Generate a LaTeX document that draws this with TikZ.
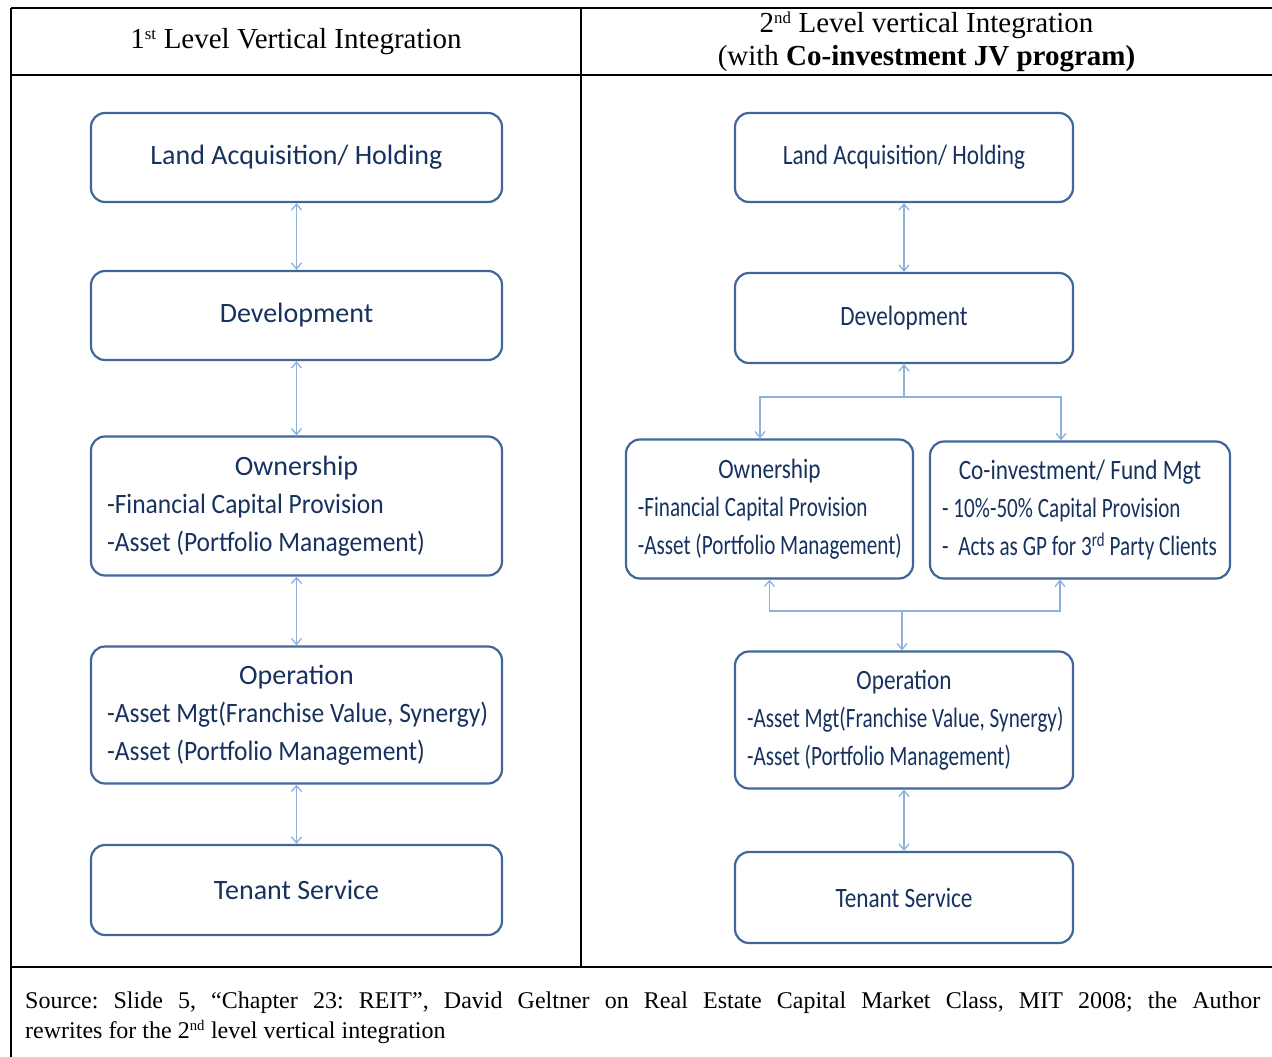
\documentclass[tikz,border=0pt]{standalone}
\usepackage{fontspec}
\setmainfont{Liberation Serif}
\newfontfamily\boxfont{Carlito}
\usetikzlibrary{arrows.meta,calc}
\definecolor{boxline}{HTML}{41679A}
\definecolor{boxtext}{HTML}{17325F}
\definecolor{linkblue}{HTML}{8EB1DC}
% condensed lettering used in the right-hand column
\newcommand{\narrowtext}[1]{\scalebox{0.83}[1]{#1}}
% tightly set detail lines inside the boxes
\newcommand{\detail}[1]{\scalebox{0.91}[1]{#1}}
% ordinal suffix in the serif texts
\newcommand{\ordsuffix}[1]{{\fontsize{24}{24}\selectfont\textsuperscript{#1}}}
\frenchspacing
\begin{document}
\begin{tikzpicture}[x=1pt,y=-1pt,
  stage/.style={draw=boxline, line width=2.2pt, rounded corners=14pt, fill=white,
    text=boxtext, font=\boxfont\fontsize{28}{38}\selectfont, inner sep=0pt, align=center},
  link/.style={draw=linkblue, line width=1.3pt},
  >={Straight Barb[length=6pt,width=10pt]},
  rule/.style={line width=2pt, black},
  head/.style={font=\fontsize{29}{33}\selectfont, align=center, inner sep=0pt}]
\useasboundingbox (0,0) rectangle (1272,1057);
\fill[white] (0,0) rectangle (1272,1057);

% table frame
\draw[rule] (11,8) -- (1272,8);
\draw[rule] (11,8) -- (11,1057);
\draw[rule] (11,75) -- (1272,75);
\draw[rule] (11,967) -- (1272,967);
\draw[line width=1.5pt] (581,8) -- (581,967);

% column headings
\node[head] (h1) at (296,42) {1\ordsuffix{st} Level Vertical Integration};
\node[head] (h2) at (926.5,42) {2\ordsuffix{nd} Level vertical Integration\\(with \textbf{Co-investment JV program)}};

% first level chain
\node[stage, minimum width=411pt, minimum height=89pt] (lland) at (296.5,157.5) {Land Acquisition/ Holding};
\node[stage, minimum width=411pt, minimum height=89pt] (ldev) at (296.5,315.5) {Development};
\node[stage, minimum width=411pt, minimum height=139pt] (lown) at (296.5,506)
  {\parbox{379pt}{\centering Ownership\par\raggedright
   \detail{-Financial Capital Provision}\par \detail{-Asset (Portfolio Management)}}};
\node[stage, minimum width=411pt, minimum height=137pt] (lop) at (296.5,715)
  {\parbox{379pt}{\centering Operation\par\raggedright
   \detail{-Asset Mgt(Franchise Value, Synergy)}\par \detail{-Asset (Portfolio Management)}}};
\node[stage, minimum width=411pt, minimum height=90pt] (lten) at (296.5,890) {Tenant Service};

\draw[link,<->] (lland) -- (ldev);
\draw[link,<->] (ldev) -- (lown);
\draw[link,<->] (lown) -- (lop);
\draw[link,<->] (lop) -- (lten);

% second level chain
\node[stage, minimum width=338pt, minimum height=89pt] (rland) at (904,157.5) {\narrowtext{Land Acquisition/ Holding}};
\node[stage, minimum width=338pt, minimum height=90pt] (rdev) at (904,318) {\narrowtext{Development}};
\node[stage, minimum width=287pt, minimum height=139pt] (rown) at (769.5,509)
  {\narrowtext{\parbox{317pt}{\centering Ownership\par\raggedright
   \detail{-Financial Capital Provision}\par \detail{-Asset (Portfolio Management)}}}};
\node[stage, minimum width=300pt, minimum height=137pt] (rco) at (1080,510)
  {\narrowtext{\parbox{332pt}{\centering Co-investment/ Fund Mgt\par\raggedright
   \detail{- 10\%-50\% Capital Provision}\par \detail{-\ \ Acts as GP for 3\textsuperscript{rd} Party Clients}}}};
\node[stage, minimum width=338pt, minimum height=137pt] (rop) at (904,720)
  {\narrowtext{\parbox{378pt}{\centering Operation\par\raggedright
   \detail{-Asset Mgt(Franchise Value, Synergy)}\par \detail{-Asset (Portfolio Management)}}}};
\node[stage, minimum width=338pt, minimum height=91pt] (rten) at (904,897.5) {\narrowtext{Tenant Service}};

\coordinate (split) at (904,397);
\coordinate (merge) at (902,611);

\draw[link,<->] (rland) -- (rdev);
\draw[link,->] (split) -- (rdev.south);
\draw[link,<->] ([xshift=-9.5pt]rown.north) |- (split) -| ([xshift=-19pt]rco.north);
\draw[link,<->] (rown.south) |- (merge) -| ([xshift=-20pt]rco.south);
\draw[link,->] (merge) -- (merge |- rop.north);
\draw[link,<->] (rop) -- (rten);

% source note
\node[anchor=base west, inner sep=0pt, font=\fontsize{24}{30}\selectfont] (src) at (25,1008)
  {\parbox[t]{1235pt}{Source: Slide 5, ``Chapter 23: REIT'', David Geltner on Real Estate Capital Market Class, MIT 2008; the Author\linebreak rewrites for the 2{\fontsize{21}{21}\selectfont\textsuperscript{nd}} level vertical integration}};
\end{tikzpicture}
\end{document}
